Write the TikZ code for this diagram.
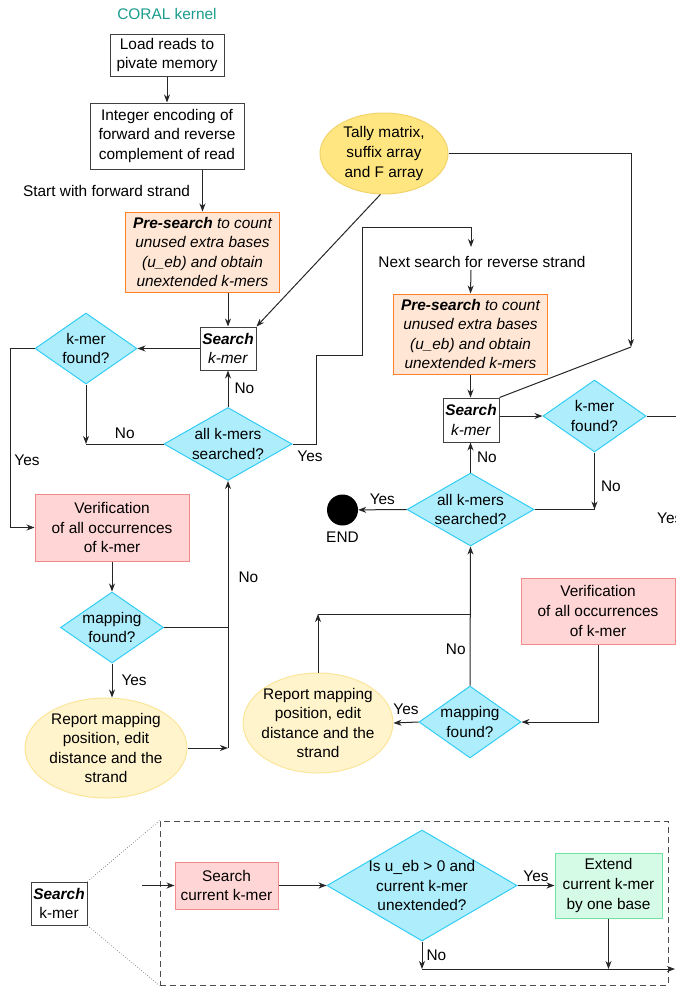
\documentclass[tikz,border=0pt]{standalone}
\usepackage{fontspec}
\setmainfont{Liberation Sans}
\usetikzlibrary{arrows.meta,positioning,calc,shapes.geometric}
\definecolor{decfill}{HTML}{AEEEFC}
\definecolor{decdraw}{HTML}{33CCF5}
\definecolor{prefill}{HTML}{FFE6D5}
\definecolor{predraw}{HTML}{FF7F2A}
\definecolor{verfill}{HTML}{FFD5D5}
\definecolor{verdraw}{HTML}{F58A8A}
\definecolor{tallyfill}{HTML}{FFE680}
\definecolor{tallydraw}{HTML}{F2D36B}
\definecolor{repfill}{HTML}{FFF4CC}
\definecolor{repdraw}{HTML}{FBE59A}
\definecolor{extfill}{HTML}{D5FBE6}
\definecolor{extdraw}{HTML}{6FE3A0}
\definecolor{titlecol}{HTML}{1A9C8C}
\newcommand{\lblfont}{\fontsize{15.4}{19.6}\selectfont}
\tikzset{
  lbl/.style={font=\lblfont, inner sep=0pt, align=center},
  box/.style={rectangle, draw=black!75, fill=white, line width=1pt, inner sep=0pt,
    font=\lblfont, align=center},
  prebox/.style={box, draw=predraw, fill=prefill, font=\lblfont\itshape,
    minimum width=154, minimum height=80},
  verbox/.style={box, draw=verdraw, fill=verfill},
  extbox/.style={box, draw=extdraw, fill=extfill},
  dec/.style={diamond, draw=decdraw, fill=decfill, line width=1pt, inner sep=0pt,
    label={[lbl]center:#1}},
  oval/.style={ellipse, draw=repdraw, fill=repfill, line width=1pt, inner sep=0pt,
    label={[lbl]center:#1}},
  flow/.style={-{Stealth[length=8pt,width=6pt,inset=2.5pt]}, line width=1pt, draw=black!85},
  wire/.style={line width=1pt, draw=black!85},
  frame/.style={draw=black!70, line width=1pt, dash pattern=on 6pt off 4pt},
  zoomline/.style={draw=black!70, line width=0.6pt, dotted},
}

\begin{document}
\begin{tikzpicture}[x=1pt, y=-1pt]
  \useasboundingbox (0,0) rectangle (676,988);
  \clip (0,0) rectangle (676,988);

  % forward strand
  \node[lbl, text=titlecol] (title) at (167,14) {CORAL kernel};
  \node[box, minimum width=114, minimum height=42] (load) at (167,55) {Load reads to\\pivate memory};
  \node[box, minimum width=154, minimum height=66] (enc) at (167,136)
    {Integer encoding of\\forward and reverse\\complement of read};
  \node[prebox] (pre1) at (202.5,252)
    {\textbf{Pre-search} to count\\unused extra bases\\(u\_eb) and obtain\\unextended k-mers};
  \node[box, minimum width=56, minimum height=43] (search1) at (228,348.5) {\textbf{\textit{Search}}\\\textit{k-mer}};
  \node[oval={Tally matrix,\\suffix array\\and F array}, draw=tallydraw, fill=tallyfill,
    minimum width=128, minimum height=81] (tally) at (384,153.5) {};
  \node[dec={k-mer\\found?}, minimum width=102, minimum height=71] (kfound1) at (86,348.5) {};
  \node[dec={all k-mers\\searched?}, minimum width=128, minimum height=73] (allk1) at (228,444) {};
  \node[verbox, minimum width=154, minimum height=67] (verif1) at (112,527.5)
    {Verification\\of all occurrences\\of k-mer};
  \node[dec={mapping\\found?}, minimum width=103, minimum height=71] (map1) at (112,627.5) {};
  \node[oval={Report mapping\\position, edit\\distance and the\\strand},
    minimum width=162, minimum height=100] (rep1) at (106,748) {};

  % reverse strand
  \node[lbl] (next) at (482,262) {Next search for reverse strand};
  \node[prebox] (pre2) at (470.5,334)
    {\textbf{Pre-search} to count\\unused extra bases\\(u\_eb) and obtain\\unextended k-mers};
  \node[box, minimum width=56, minimum height=44] (search2) at (471,420) {\textbf{\textit{Search}}\\\textit{k-mer}};
  \node[dec={k-mer\\found?}, minimum width=103, minimum height=72] (kfound2) at (594.5,416) {};
  \node[dec={all k-mers\\searched?}, minimum width=127, minimum height=73] (allk2) at (470.5,509.5) {};
  \node[circle, fill=black, minimum size=31, inner sep=0pt] (endc) at (342.5,510) {};
  \node[lbl, below=6pt of endc] (endl) {END};
  \node[verbox, minimum width=154, minimum height=66] (verif2) at (598,611)
    {Verification\\of all occurrences\\of k-mer};
  \node[dec={mapping\\found?}, minimum width=102, minimum height=72] (map2) at (470,722) {};
  \node[oval={Report mapping\\position, edit\\distance and the\\strand},
    minimum width=150, minimum height=100] (rep2) at (318,723) {};

  % search k-mer in detail
  \node[frame, minimum width=508, minimum height=164] (detail) at (414,903) {};
  \node[box, minimum width=56, minimum height=43] (small) at (59,903.5) {\textbf{\textit{Search}}\\k-mer};
  \node[verbox, minimum width=103, minimum height=47] (cur) at (226.5,885.5) {Search\\current k-mer};
  \node[dec={Is u\_eb > 0 and\\current k-mer\\unextended?}, minimum width=190, minimum height=111]
    (isu) at (422,885.5) {};
  \node[extbox, minimum width=107, minimum height=65] (ext) at (608.5,885.5)
    {Extend\\current k-mer\\by one base};

  \coordinate (tr) at (631,347);
  \coordinate (lft) at (10,0);
  \coordinate (rgt) at (700,0);
  \coordinate (t1) at (316,355);
  \coordinate (t2) at (362,227);
  \coordinate (n1) at (471,247);
  \coordinate (n2) at (471,270);
  \coordinate (j4) at (470,614);
  \coordinate (inl) at (142,885.5);
  \coordinate (bt) at (0,969);
  \coordinate (outr) at (675,969);

  % connectors, forward strand
  \draw[flow] (load) -- (enc);
  \draw[flow] (enc.south -| pre1.north) -- node[lbl, left=12pt] (start) {Start with forward strand} (pre1.north);
  \draw[flow] (pre1.south -| search1.north) -- (search1.north);
  \draw[flow] (tally.265) -- (search1.north east);
  \draw[flow] (tally.east) -| (tr);
  \draw[wire] (tr) -- (search2.north east);
  \draw[flow] (search1) -- (kfound1);
  \draw[flow] (kfound1.west) -- (kfound1.west -| lft) |- (verif1.west);
  \node[lbl] (yes1) at (27,460) {Yes};
  \coordinate (j1) at (kfound1.south |- allk1.west);
  \draw[flow] (kfound1.south) -- (j1);
  \draw[wire] (allk1.west) -- node[lbl, above=5pt] (no1) {No} (j1);
  \draw[flow] (allk1.north) -- node[lbl, right=6pt] (no2) {No} (search1.south);
  \draw[flow] (allk1.east) -| (t1) -| (t2) -| (n1);
  \node[lbl] (yes2) at (310,456) {Yes};
  \draw[flow] (n2) -- (pre2.north);
  \draw[flow] (verif1) -- (map1);
  \coordinate (j2) at (allk1.south |- rep1.east);
  \draw[wire] (map1.east) -- (map1.east -| j2);
  \draw[flow] (rep1.east) -- (j2);
  \draw[flow] (j2) -- node[lbl, right=10pt, pos=0.64] (no3) {No} (allk1.south);
  \draw[flow] (map1.south) -- node[lbl, right=9pt] (yes3) {Yes} (map1.south |- rep1.north);

  % connectors, reverse strand
  \draw[flow] (pre2.south) -- (pre2.south |- search2.north);
  \draw[flow] (search2.east |- kfound2.west) -- (kfound2.west);
  \draw[wire] (kfound2.east) -- (kfound2.east -| rgt);
  \node[lbl, anchor=west] (yes4) at (657,518) {Yes};
  \coordinate (j3) at (kfound2.south |- allk2.east);
  \draw[flow] (kfound2.south) -- node[lbl, right=6pt, pos=0.6] (no4) {No} (j3);
  \draw[wire] (allk2.east) -- (j3);
  \draw[flow] (allk2.north) -- node[lbl, right=6pt] (no5) {No} (allk2.north |- search2.south);
  \draw[flow] (allk2.west) -- node[lbl, above=5pt] (yes5) {Yes} (endc);
  \draw[flow] (map2.north) -- node[lbl, left=4pt, pos=0.26] (no6) {No} (allk2.south);
  \draw[wire] (j4) -- (rep2.north |- j4);
  \draw[flow] (rep2.north) -- (rep2.north |- j4);
  \draw[flow] (verif2.south) |- (map2.east);
  \draw[flow] (map2.west) -- node[lbl, above=7pt] (yes6) {Yes} (rep2.east);

  % detail view
  \draw[zoomline] (small.north east) -- (detail.north west);
  \draw[zoomline] (small.south east) -- (detail.south west);
  \draw[flow] (inl) -- (cur);
  \draw[flow] (cur) -- (isu);
  \draw[flow] (isu) -- node[lbl, above=3pt] (yes7) {Yes} (ext);
  \draw[flow] (isu.south) -- node[lbl, right=4pt] (no7) {No} (isu.south |- bt);
  \draw[flow] (ext.south) -- (ext.south |- bt);
  \draw[flow] (isu.south |- bt) -- (outr);
\end{tikzpicture}
\end{document}
